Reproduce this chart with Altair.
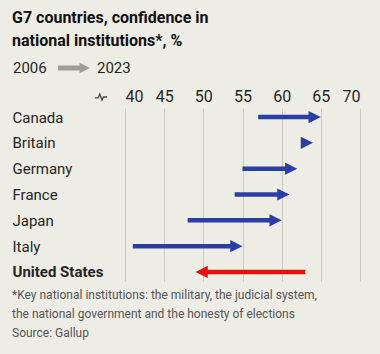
import altair as alt
import pandas as pd

countries = ["Canada", "Britain", "Germany", "France", "Japan", "Italy", "United States"]
v2006 = [57, 62.5, 55, 54, 48, 41, 63]
v2023 = [65, 64, 62, 61, 60, 55, 49]
x_ticks = [40, 45, 50, 55, 60, 65, 70]

title_lines = ["G7 countries, confidence in", "national institutions*, %"]
footnote_lines = [
    "*Key national institutions: the military, the judicial system,",
    "the national government and the honesty of elections",
    "Source: Gallup",
]

BG = "#edece5"
BLUE = "#2a3ea6"
RED = "#e3120b"
GREY_ARROW = "#9d9d97"
TEXT = "#262626"
FONT = "Roboto"

HEAD_R = "M0,0L-2,-1L-2,1Z"
HEAD_L = "M0,0L2,-1L2,1Z"

df = pd.DataFrame({"country": countries, "start": v2006, "end": v2023})

W, H = 235, 173

base = alt.Chart(df).transform_calculate(
    shaft_end="datum.end - (datum.end > datum.start ? 1 : -1)"
)

y_axis = alt.Axis(
    title=None, orient="left", domain=False, ticks=False,
    labelAlign="left", labelPadding=113, labelFontSize=15,
    labelColor=TEXT, labelFont=FONT,
    labelFontWeight=alt.condition(alt.datum.value == "United States",
                                  alt.value("bold"), alt.value("normal")),
)
y_scale = alt.Scale(type="point", padding=0.35)
x_axis = alt.Axis(title=None, orient="top", values=x_ticks, domain=False,
                  ticks=False, grid=True, gridColor="#cbcbc5", gridWidth=1,
                  labelFontSize=16, labelColor=TEXT, labelFont=FONT,
                  labelPadding=4, labelOverlap=False)
x_scale = alt.Scale(domain=[40, 70], nice=False, zero=False)
color_cond = alt.condition("datum.end < datum.start", alt.value(RED), alt.value(BLUE))

shaft = base.mark_rule(strokeWidth=4.5, strokeCap="butt").encode(
    x=alt.X("start:Q", scale=x_scale, axis=x_axis),
    x2="shaft_end:Q",
    y=alt.Y("country:N", sort=countries, scale=y_scale, axis=y_axis),
    color=color_cond,
)

head = base.mark_point(filled=True, size=150, opacity=1, strokeWidth=0).encode(
    x=alt.X("end:Q", scale=x_scale, axis=x_axis),
    y=alt.Y("country:N", sort=countries, scale=y_scale, axis=y_axis),
    shape=alt.condition("datum.end < datum.start", alt.value(HEAD_L), alt.value(HEAD_R)),
    color=color_cond,
)

one = alt.Chart(pd.DataFrame({"k": [0]}))

year_a = one.mark_text(align="left", baseline="middle", fontSize=15, font=FONT,
                       color=TEXT).encode(
    x=alt.value(-112), y=alt.value(-40), text=alt.value("2006"))
year_b = one.mark_text(align="left", baseline="middle", fontSize=15, font=FONT,
                       color=TEXT).encode(
    x=alt.value(-28), y=alt.value(-40), text=alt.value("2023"))
leg_shaft = one.mark_rule(strokeWidth=5, color=GREY_ARROW, strokeCap="butt").encode(
    x=alt.value(-67), x2=alt.value(-44), y=alt.value(-40))
leg_head = one.mark_point(filled=True, size=110, opacity=1, strokeWidth=0,
                          color=GREY_ARROW, shape=HEAD_R).encode(
    x=alt.value(-35), y=alt.value(-40))

squiggle = one.mark_point(filled=False, size=90, opacity=1, strokeWidth=1.3,
                          color="#444444",
                          shape="M-1.3,0.2L-0.6,0.2L-0.25,-0.6L0.2,0.7L0.5,0L1.3,0").encode(
    x=alt.value(-24), y=alt.value(-11))

foot = one.mark_text(align="left", baseline="top", fontSize=12, font=FONT,
                     color="#555555", lineHeight=19).encode(
    x=alt.value(-113), y=alt.value(182), text=alt.value(footnote_lines))

chart = alt.layer(
    shaft, head, year_a, year_b, leg_shaft, leg_head, squiggle, foot
).properties(
    width=W, height=H,
    title=alt.TitleParams(
        text=title_lines, anchor="start", fontSize=16, font=FONT,
        fontWeight="bold", color="#111111", lineHeight=23, offset=12,
    ),
    autosize=alt.AutoSizeParams(type="none"),
    padding={"left": 125, "top": 108, "right": 20, "bottom": 73},
    background=BG,
).configure_view(stroke=None)

chart.save("out.html", embed_options={"renderer": "svg", "actions": False})
